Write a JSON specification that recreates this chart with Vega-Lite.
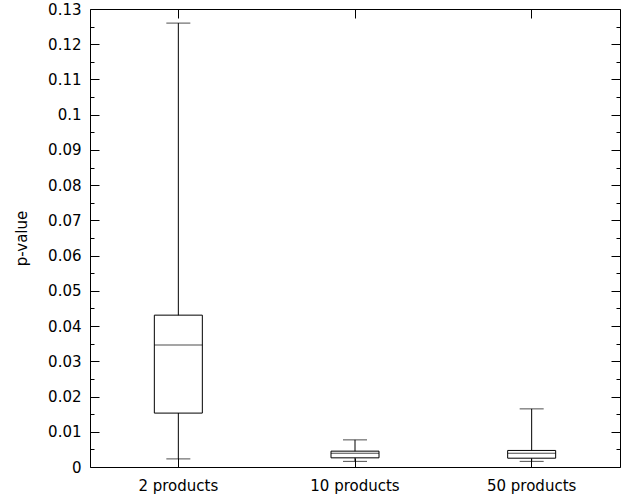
{
  "$schema": "https://vega.github.io/schema/vega-lite/v6.json",
  "width": 530,
  "height": 458,
  "autosize": {"type": "none"},
  "padding": {"left": 90, "top": 9, "right": 3, "bottom": 32},
  "background": "white",
  "config": {
    "view": {"stroke": "black", "strokeWidth": 1},
    "font": "DejaVu Sans",
    "axis": {
      "labelFont": "DejaVu Sans",
      "titleFont": "DejaVu Sans",
      "labelFontSize": 15,
      "titleFontSize": 15,
      "titleFontWeight": "normal",
      "labelColor": "black",
      "titleColor": "black",
      "tickColor": "black",
      "tickWidth": 1,
      "domain": false,
      "grid": false
    }
  },
  "data": {
    "values": [
      {"group": "2 products", "lower": 0.0023, "q1": 0.0153, "median": 0.0346, "q3": 0.0431, "upper": 0.126},
      {"group": "10 products", "lower": 0.0016, "q1": 0.0026, "median": 0.0039, "q3": 0.0045, "upper": 0.0077},
      {"group": "50 products", "lower": 0.0016, "q1": 0.0025, "median": 0.0039, "q3": 0.0047, "upper": 0.0165}
    ]
  },
  "resolve": {"axis": {"x": "independent", "y": "independent"}},
  "layer": [
    {
      "mark": {"type": "rule", "color": "black", "strokeWidth": 1},
      "encoding": {
        "x": {"field": "group", "type": "nominal", "sort": null,
              "scale": {"paddingInner": 0, "paddingOuter": 0},
              "axis": {"orient": "bottom", "title": null, "labelAngle": 0, "offset": -9, "tickSize": 9, "labelPadding": 11}},
        "y": {"field": "lower", "type": "quantitative",
              "scale": {"domain": [0, 0.13], "nice": false, "zero": true},
              "axis": {"orient": "left", "title": "p-value", "format": ".2~f",
                       "values": [0,0.01,0.02,0.03,0.04,0.05,0.06,0.07,0.08,0.09,0.1,0.11,0.12,0.13],
                       "offset": -9, "tickSize": 9, "labelPadding": 9, "titlePadding": 18}},
        "y2": {"field": "upper"}
      }
    },
    {
      "mark": {"type": "bar", "fill": "white", "stroke": "black", "strokeWidth": 1, "width": 48},
      "encoding": {
        "x": {"field": "group", "type": "nominal", "sort": null,
              "axis": {"orient": "top", "title": null, "labels": false, "offset": -9, "tickSize": 9}},
        "y": {"field": "q1", "type": "quantitative",
              "axis": {"orient": "right", "title": null, "labels": false, "offset": -9, "tickSize": 9,
                       "values": [0,0.01,0.02,0.03,0.04,0.05,0.06,0.07,0.08,0.09,0.1,0.11,0.12,0.13]}},
        "y2": {"field": "q3"}
      }
    },
    {
      "mark": {"type": "tick", "color": "black", "thickness": 1, "size": 48},
      "encoding": {
        "x": {"field": "group", "type": "nominal", "sort": null, "axis": null},
        "y": {"field": "median", "type": "quantitative",
              "axis": {"orient": "left", "title": null, "labels": false, "offset": -4, "tickSize": 4,
                       "values": [0.005,0.015,0.025,0.035,0.045,0.055,0.065,0.075,0.085,0.095,0.105,0.115,0.125]}}
      }
    },
    {
      "mark": {"type": "tick", "color": "black", "thickness": 1, "size": 24},
      "encoding": {
        "x": {"field": "group", "type": "nominal", "sort": null, "axis": null},
        "y": {"field": "lower", "type": "quantitative",
              "axis": {"orient": "right", "title": null, "labels": false, "offset": -4, "tickSize": 4,
                       "values": [0.005,0.015,0.025,0.035,0.045,0.055,0.065,0.075,0.085,0.095,0.105,0.115,0.125]}}
      }
    },
    {
      "mark": {"type": "tick", "color": "black", "thickness": 1, "size": 24},
      "encoding": {
        "x": {"field": "group", "type": "nominal", "sort": null, "axis": null},
        "y": {"field": "upper", "type": "quantitative", "axis": null}
      }
    }
  ]
}
